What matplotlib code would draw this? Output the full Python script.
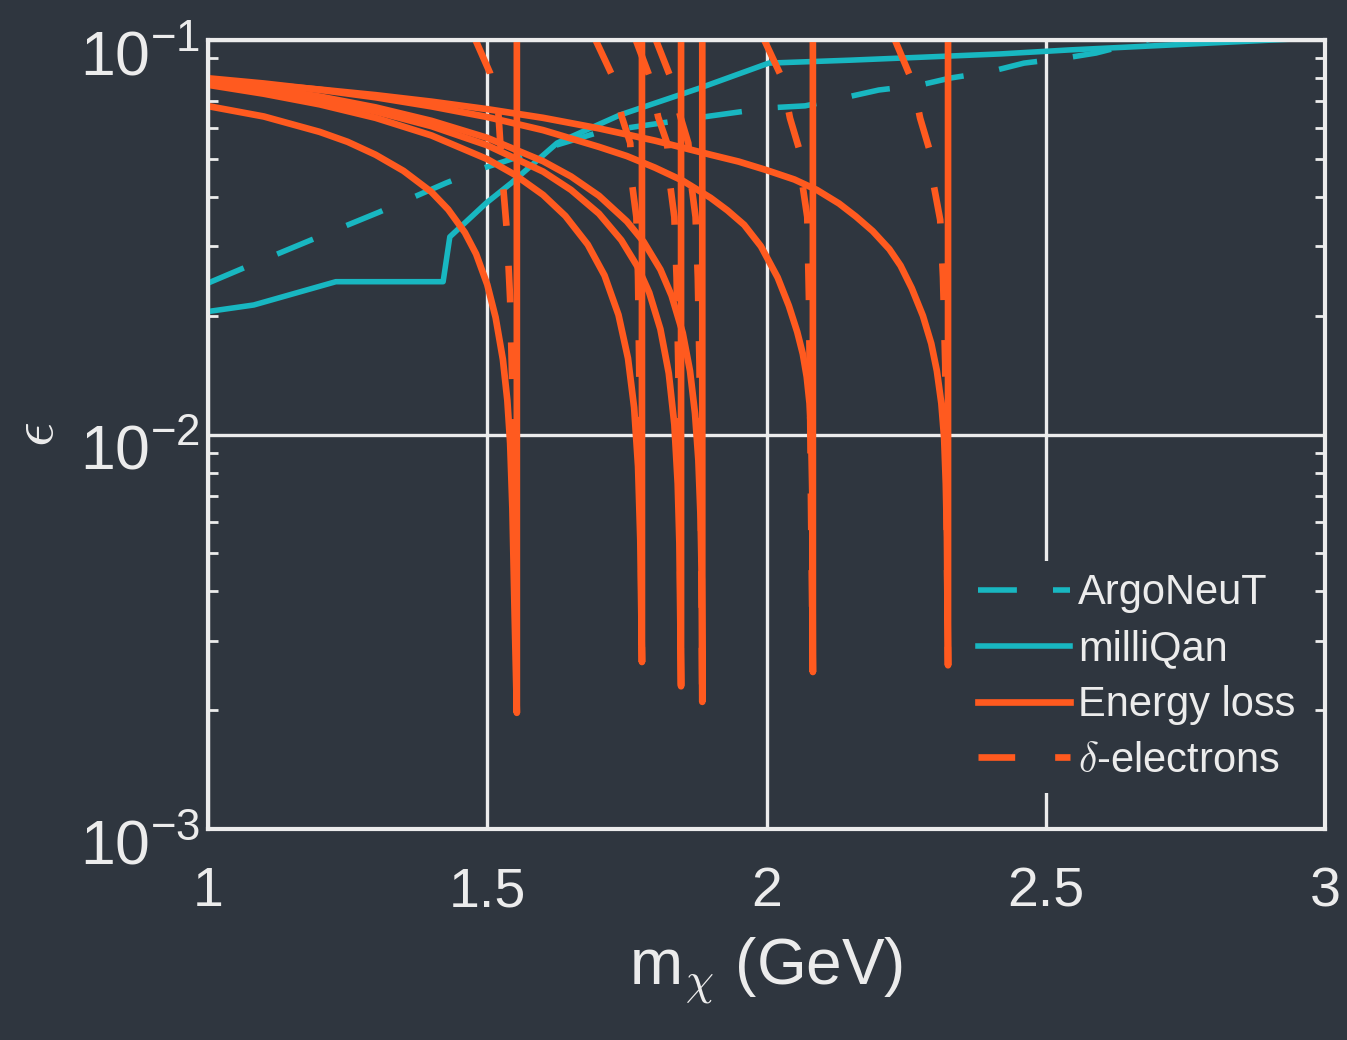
import numpy as np
import matplotlib
matplotlib.use("Agg")
import matplotlib.pyplot as plt
import matplotlib.transforms as mtrans

plt.rcParams['font.family'] = ['Liberation Sans', 'DejaVu Sans']
plt.rcParams['axes.unicode_minus'] = False

# --- data: epsilon limits vs mass (GeV) ---

# energy loss curves, one per threshold
loss_a_m = [1.00, 1.10, 1.20, 1.25, 1.30, 1.35, 1.40, 1.43, 1.46, 1.48, 1.50, 1.515, 1.528, 1.536, 1.541, 1.545, 1.549, 1.553, 1.553]
loss_a_eps = [0.068, 0.064, 0.0585, 0.0552, 0.0512, 0.0466, 0.0412, 0.0372, 0.0325, 0.0287, 0.024, 0.0198, 0.0155, 0.0122, 0.0095, 0.0065, 0.0035, 0.00197, 0.1]

loss_b_m = [1.00, 1.10, 1.20, 1.30, 1.40, 1.50, 1.55, 1.60, 1.64, 1.68, 1.71, 1.735, 1.752, 1.763, 1.770, 1.774, 1.777, 1.777]
loss_b_eps = [0.077, 0.0731, 0.0687, 0.0635, 0.0573, 0.0499, 0.0455, 0.0405, 0.0358, 0.0303, 0.0253, 0.0201, 0.0156, 0.0117, 0.0083, 0.0054, 0.00265, 0.1]

loss_c_m = [1.00, 1.10, 1.20, 1.30, 1.40, 1.50, 1.60, 1.65, 1.70, 1.74, 1.77, 1.79, 1.81, 1.825, 1.835, 1.841, 1.844, 1.847, 1.847]
loss_c_eps = [0.078, 0.0745, 0.0705, 0.0659, 0.0605, 0.0541, 0.0464, 0.0417, 0.0363, 0.0311, 0.0265, 0.0229, 0.0185, 0.0143, 0.0106, 0.0075, 0.0053, 0.0023, 0.1]

loss_d_m = [1.00, 1.10, 1.20, 1.30, 1.40, 1.50, 1.60, 1.65, 1.70, 1.75, 1.78, 1.81, 1.83, 1.85, 1.863, 1.872, 1.878, 1.882, 1.884, 1.885, 1.885]
loss_d_eps = [0.079, 0.0757, 0.0719, 0.0675, 0.0624, 0.0565, 0.0493, 0.0451, 0.0403, 0.0347, 0.0308, 0.0262, 0.0225, 0.0181, 0.0145, 0.0113, 0.0086, 0.0061, 0.0043, 0.0021, 0.1]

loss_e_m = [1.00, 1.10, 1.20, 1.30, 1.40, 1.50, 1.60, 1.70, 1.75, 1.80, 1.85, 1.90, 1.93, 1.96, 1.99, 2.02, 2.04, 2.055, 2.065, 2.072, 2.077, 2.080, 2.082, 2.083, 2.083]
loss_e_eps = [0.080, 0.0776, 0.0748, 0.0716, 0.0679, 0.0638, 0.0591, 0.0536, 0.0508, 0.0475, 0.044, 0.0398, 0.037, 0.034, 0.030, 0.025, 0.0212, 0.0182, 0.016, 0.014, 0.012, 0.0098, 0.007, 0.0025, 0.1]

loss_f_m = [1.00, 1.10, 1.20, 1.30, 1.40, 1.50, 1.60, 1.70, 1.80, 1.90, 1.95, 2.00, 2.05, 2.09, 2.13, 2.16, 2.19, 2.22, 2.24, 2.26, 2.28, 2.295, 2.305, 2.313, 2.318, 2.321, 2.323, 2.325, 2.325]
loss_f_eps = [0.079, 0.0771, 0.0749, 0.0725, 0.0698, 0.0668, 0.0635, 0.0597, 0.0556, 0.0512, 0.0492, 0.0468, 0.0443, 0.0417, 0.0385, 0.0357, 0.0328, 0.0295, 0.0268, 0.0235, 0.020, 0.017, 0.0145, 0.012, 0.0098, 0.0075, 0.0055, 0.0026, 0.1]

# delta-electron curves
delta_a_m = [1.479, 1.505, 1.520, 1.528, 1.535, 1.541, 1.545, 1.548, 1.551, 1.553]
delta_a_eps = [0.1, 0.0825, 0.065, 0.0434, 0.033, 0.022, 0.013, 0.007, 0.004, 0.00197]

delta_b_m = [1.694, 1.725, 1.741, 1.756, 1.760, 1.767, 1.770, 1.772, 1.774, 1.777]
delta_b_eps = [0.1, 0.0806, 0.0638, 0.0548, 0.0424, 0.0356, 0.025, 0.015, 0.008, 0.00265]

delta_c_m = [1.766, 1.791, 1.806, 1.822, 1.828, 1.835, 1.839, 1.842, 1.844, 1.847]
delta_c_eps = [0.1, 0.0806, 0.0638, 0.0548, 0.0424, 0.0356, 0.025, 0.015, 0.008, 0.0023]

delta_d_m = [1.802, 1.828, 1.846, 1.860, 1.866, 1.873, 1.877, 1.880, 1.882, 1.885]
delta_d_eps = [0.1, 0.0806, 0.0638, 0.0548, 0.0424, 0.0356, 0.025, 0.015, 0.008, 0.0021]

delta_e_m = [1.996, 2.028, 2.042, 2.058, 2.065, 2.073, 2.076, 2.078, 2.080, 2.083]
delta_e_eps = [0.1, 0.080, 0.0634, 0.0532, 0.0424, 0.0356, 0.022, 0.012, 0.006, 0.0025]

delta_f_m = [2.230, 2.262, 2.275, 2.293, 2.300, 2.311, 2.316, 2.320, 2.322, 2.325]
delta_f_eps = [0.1, 0.078, 0.0634, 0.052, 0.0424, 0.035, 0.025, 0.015, 0.007, 0.0026]

# existing limits
argoneut_m = [1.00, 1.063, 1.184, 1.306, 1.426, 1.494, 1.594, 1.702, 1.872, 2.004, 2.069, 2.137, 2.201, 2.275, 2.329, 2.398, 2.461, 2.534, 2.590, 2.717]
argoneut_eps = [0.0242, 0.0264, 0.0311, 0.0366, 0.0434, 0.0474, 0.0526, 0.0585, 0.0634, 0.0673, 0.0681, 0.0713, 0.0747, 0.0769, 0.0801, 0.0830, 0.0874, 0.0900, 0.0927, 0.103]

milliqan_m = [1.00, 1.082, 1.229, 1.421, 1.433, 1.498, 1.543, 1.625, 1.738, 1.881, 2.004, 2.149, 2.418, 2.543, 2.937]
milliqan_eps = [0.0205, 0.0213, 0.0244, 0.0244, 0.0317, 0.0386, 0.0434, 0.0548, 0.0646, 0.0756, 0.0874, 0.0889, 0.0922, 0.0944, 0.1005]

loss_m = [loss_a_m, loss_b_m, loss_c_m, loss_d_m, loss_e_m, loss_f_m]
loss_eps = [loss_a_eps, loss_b_eps, loss_c_eps, loss_d_eps, loss_e_eps, loss_f_eps]
delta_m = [delta_a_m, delta_b_m, delta_c_m, delta_d_m, delta_e_m, delta_f_m]
delta_eps = [delta_a_eps, delta_b_eps, delta_c_eps, delta_d_eps, delta_e_eps, delta_f_eps]

# --- style ---

bg = '#2f363f'
fg = '#ececec'
orange = '#ff5a1f'
cyan = '#18b7c1'

fig = plt.figure(figsize=(13.47, 10.4), dpi=100, facecolor=bg)
ax = fig.add_axes([0.1544, 0.2029, 0.8293, 0.7586], facecolor=bg)

# --- plot ---

ax.plot(argoneut_m, argoneut_eps, color=cyan, lw=4.0, dashes=(7, 6.5), dash_capstyle='butt', label='ArgoNeuT')
ax.plot(milliqan_m, milliqan_eps, color=cyan, lw=4.0, label='milliQan')

for i in range(len(loss_m)):
    ax.plot(loss_m[i], loss_eps[i], color=orange, lw=4.8, solid_joinstyle='round',
            label='Energy loss' if i == 0 else None)
for i in range(len(delta_m)):
    ax.plot(delta_m[i], delta_eps[i], color=orange, lw=4.8, dashes=(5.5, 6), dash_capstyle='butt',
            label=r'$\delta$-electrons' if i == 0 else None)

ax.set_yscale('log')
ax.set_xlim(1, 3)
ax.set_ylim(1e-3, 1e-1)
ax.set_xticks([1, 1.5, 2, 2.5, 3])
ax.set_xticklabels(['1', '1.5', '2', '2.5', '3'])

ax.set_axisbelow(True)
ax.grid(True, which='major', color=fg, lw=2.4)
for s in ax.spines.values():
    s.set_color(fg)
    s.set_linewidth(3)

ax.tick_params(which='both', direction='in', top=True, right=True, colors=fg)
ax.tick_params(axis='x', which='major', length=0, pad=27, labelsize=40)
ax.tick_params(axis='y', which='major', length=0, pad=6, labelsize=45)
ax.tick_params(axis='y', which='minor', length=7, width=2)
ax.tick_params(axis='x', which='minor', length=0)

# push the decade labels down so the superscript sits at the gridline
shift = mtrans.ScaledTranslation(0, -0.12, fig.dpi_scale_trans)
for lab in ax.get_yticklabels():
    lab.set_transform(lab.get_transform() + shift)

ax.set_xlabel(r'm$_{\chi}$ (GeV)', fontsize=46, color=fg, labelpad=12, math_fontfamily='cm')
ax.set_ylabel(r'$\epsilon$', fontsize=44, color=fg, labelpad=10, math_fontfamily='cm')

leg = ax.legend(loc='lower right', bbox_to_anchor=(0.985, 0.045), fontsize=30,
                frameon=True, facecolor=bg, edgecolor='none', framealpha=1,
                handlelength=2.2, handletextpad=0.2, labelspacing=0.38, borderpad=0.3,
                borderaxespad=0)
for t in leg.get_texts():
    t.set_color(fg)
    t.set_math_fontfamily('cm')

fig.savefig('out.png', dpi=100, facecolor=bg)
